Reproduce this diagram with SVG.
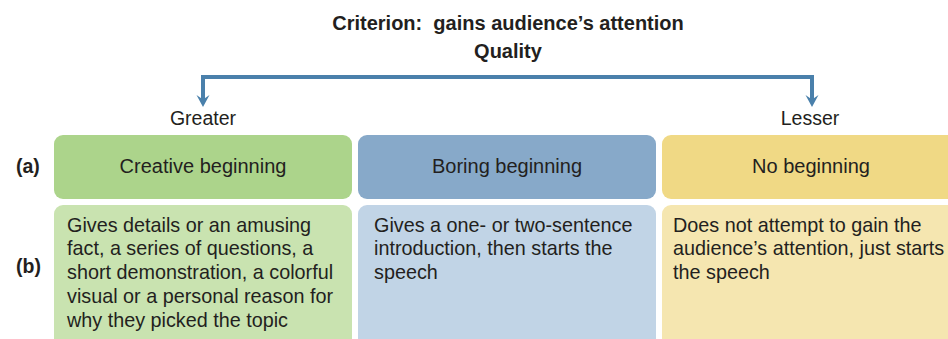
<svg xmlns="http://www.w3.org/2000/svg" width="948" height="339" viewBox="0 0 948 339">
<style>
text{font-family:"Liberation Sans",Arial,sans-serif;fill:#231f20}
.h{font-weight:bold;font-size:20px;text-anchor:middle}
.lab{font-weight:bold;font-size:19.5px}
.dir{font-size:19.5px;text-anchor:middle}
.t{font-size:20px;text-anchor:middle}
.b{font-size:19.8px}
.conn{fill:none;stroke:#4a80ab;stroke-width:4}
.ah{fill:#4a80ab}
</style>
<rect width="948" height="339" fill="#ffffff"/>
<g id="title">
<text class="h" x="508" y="30" xml:space="preserve">Criterion:  gains audience’s attention</text>
<text class="h" x="508" y="58">Quality</text>
</g>
<g id="connectors">
<path class="conn" d="M203,100 V77 H812 V100"/>
<path class="ah" d="M196.5,95 L203,99.5 L209.5,95 L203,107 Z"/>
<path class="ah" d="M805.5,95 L812,99.5 L818.5,95 L812,107 Z"/>
</g>
<g id="greater"><text class="dir" x="203" y="125">Greater</text></g>
<g id="lesser"><text class="dir" x="810" y="125">Lesser</text></g>
<g id="row-a-label"><text class="lab" x="16" y="173">(a)</text></g>
<g id="row-b-label"><text class="lab" x="16" y="273">(b)</text></g>
<g id="creative">
<rect x="54" y="135" width="298" height="64" rx="9" fill="#acd48b"/>
<text class="t" x="203" y="173">Creative beginning</text>
</g>
<g id="boring">
<rect x="358" y="135" width="298" height="64" rx="9" fill="#87a9c9"/>
<text class="t" x="507" y="173">Boring beginning</text>
</g>
<g id="none">
<rect x="662" y="135" width="298" height="64" rx="9" fill="#f0d985"/>
<text class="t" x="811" y="173">No beginning</text>
</g>
<g id="creative-desc">
<rect x="54" y="205" width="298" height="150" rx="9" fill="#c9e3b0"/>
<text class="b" x="67" y="232">Gives details or an amusing</text>
<text class="b" x="67" y="255">fact, a series of questions, a</text>
<text class="b" x="67" y="279">short demonstration, a colorful</text>
<text class="b" x="67" y="303">visual or a personal reason for</text>
<text class="b" x="67" y="327">why they picked the topic</text>
</g>
<g id="boring-desc">
<rect x="358" y="205" width="298" height="150" rx="9" fill="#c1d4e6"/>
<text class="b" x="374" y="232">Gives a one- or two-sentence</text>
<text class="b" x="374" y="255">introduction, then starts the</text>
<text class="b" x="374" y="279">speech</text>
</g>
<g id="none-desc">
<rect x="662" y="205" width="298" height="150" rx="9" fill="#f5e6b0"/>
<text class="b" x="673" y="232">Does not attempt to gain the</text>
<text class="b" x="673" y="255">audience’s attention, just starts</text>
<text class="b" x="673" y="279">the speech</text>
</g>
</svg>
